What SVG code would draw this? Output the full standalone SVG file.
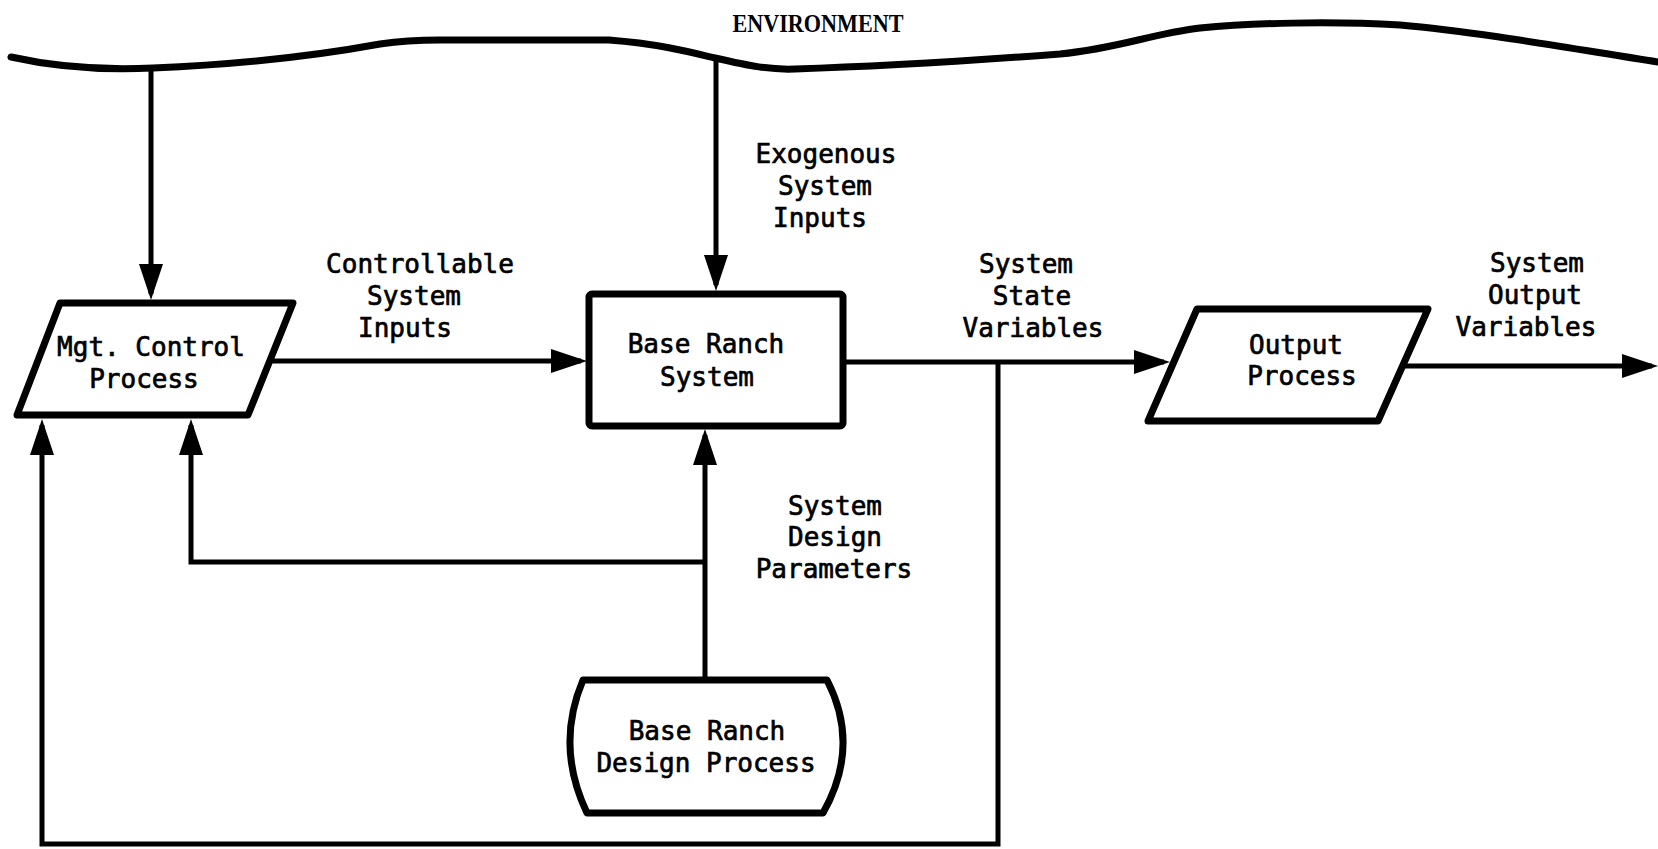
<svg xmlns="http://www.w3.org/2000/svg" width="1658" height="849" viewBox="0 0 1658 849">
<defs>
<style>
.shape{fill:#fff;stroke:#000;stroke-width:7;stroke-linejoin:round}
.con{fill:none;stroke:#000;stroke-width:5;stroke-linejoin:miter}
.t{font-family:"DejaVu Sans Mono","Liberation Mono",monospace;font-size:26px;fill:#000;stroke:#000;stroke-width:0.7;text-anchor:middle}
.env{font-family:"Liberation Serif",serif;font-size:26px;font-weight:bold;fill:#000;text-anchor:middle}
</style>
<marker id="ah" viewBox="0 0 36 24" markerWidth="36" markerHeight="24" refX="30" refY="12" orient="auto" markerUnits="userSpaceOnUse">
<path d="M0,0 L36,12 L0,24 Z" fill="#000"/>
</marker>
</defs>
<rect width="1658" height="849" fill="#fff"/>

<g id="environment">
<path d="M11,57 C60,68 110,70 153,68 C250,64 320,55 380,44 C400,41 415,40 440,40 L609,40 C660,44 690,52 715,58 C750,66 770,70 795,69 C860,67 980,60 1060,54 C1120,48 1150,34 1200,28 C1250,23 1330,21 1400,25 C1480,32 1580,50 1658,62" fill="none" stroke="#000" stroke-width="7" stroke-linecap="round"/>
<text class="env" x="818" y="32" textLength="171" lengthAdjust="spacingAndGlyphs">ENVIRONMENT</text>
</g>

<g id="connectors">
<path class="con" d="M151,68 L151,294" marker-end="url(#ah)"/>
<path class="con" d="M716,60 L716,285" marker-end="url(#ah)"/>
<path class="con" d="M270,361 L581,361" marker-end="url(#ah)"/>
<path class="con" d="M846,362 L1164,362" marker-end="url(#ah)"/>
<path class="con" d="M1403,366 L1652,366" marker-end="url(#ah)"/>
<path class="con" d="M705,677 L705,435" marker-end="url(#ah)"/>
<path class="con" d="M705,562 L191,562 L191,425" marker-end="url(#ah)"/>
<path class="con" d="M998,362 L998,844 L42,844 L42,425" marker-end="url(#ah)"/>
</g>

<g id="labels">
<text class="t" x="420" y="273">Controllable</text>
<text class="t" x="414" y="305">System</text>
<text class="t" x="405" y="337">Inputs</text>
<text class="t" x="826" y="163">Exogenous</text>
<text class="t" x="825" y="195">System</text>
<text class="t" x="820" y="227">Inputs</text>
<text class="t" x="1026" y="273">System</text>
<text class="t" x="1032" y="305">State</text>
<text class="t" x="1033" y="337">Variables</text>
<text class="t" x="1537" y="272">System</text>
<text class="t" x="1535" y="304">Output</text>
<text class="t" x="1526" y="336">Variables</text>
<text class="t" x="835" y="515">System</text>
<text class="t" x="835" y="546">Design</text>
<text class="t" x="834" y="578">Parameters</text>
</g>

<g id="mgt-control-process">
<polygon class="shape" points="60,303 293,303 248,415 17,415"/>
<text class="t" x="151" y="356">Mgt. Control</text>
<text class="t" x="144" y="388">Process</text>
</g>

<g id="base-ranch-system">
<rect class="shape" x="589" y="294" width="254" height="132" rx="3"/>
<text class="t" x="706" y="353">Base Ranch</text>
<text class="t" x="707" y="386">System</text>
</g>

<g id="output-process">
<polygon class="shape" points="1197,309 1428,309 1378,421 1148,421"/>
<text class="t" x="1296" y="354">Output</text>
<text class="t" x="1302" y="385">Process</text>
</g>

<g id="base-ranch-design-process">
<path class="shape" d="M583,680 L827,680 Q861,746 823,813 L587,813 Q555,746 583,680 Z"/>
<text class="t" x="707" y="740">Base Ranch</text>
<text class="t" x="706" y="772">Design Process</text>
</g>
</svg>
